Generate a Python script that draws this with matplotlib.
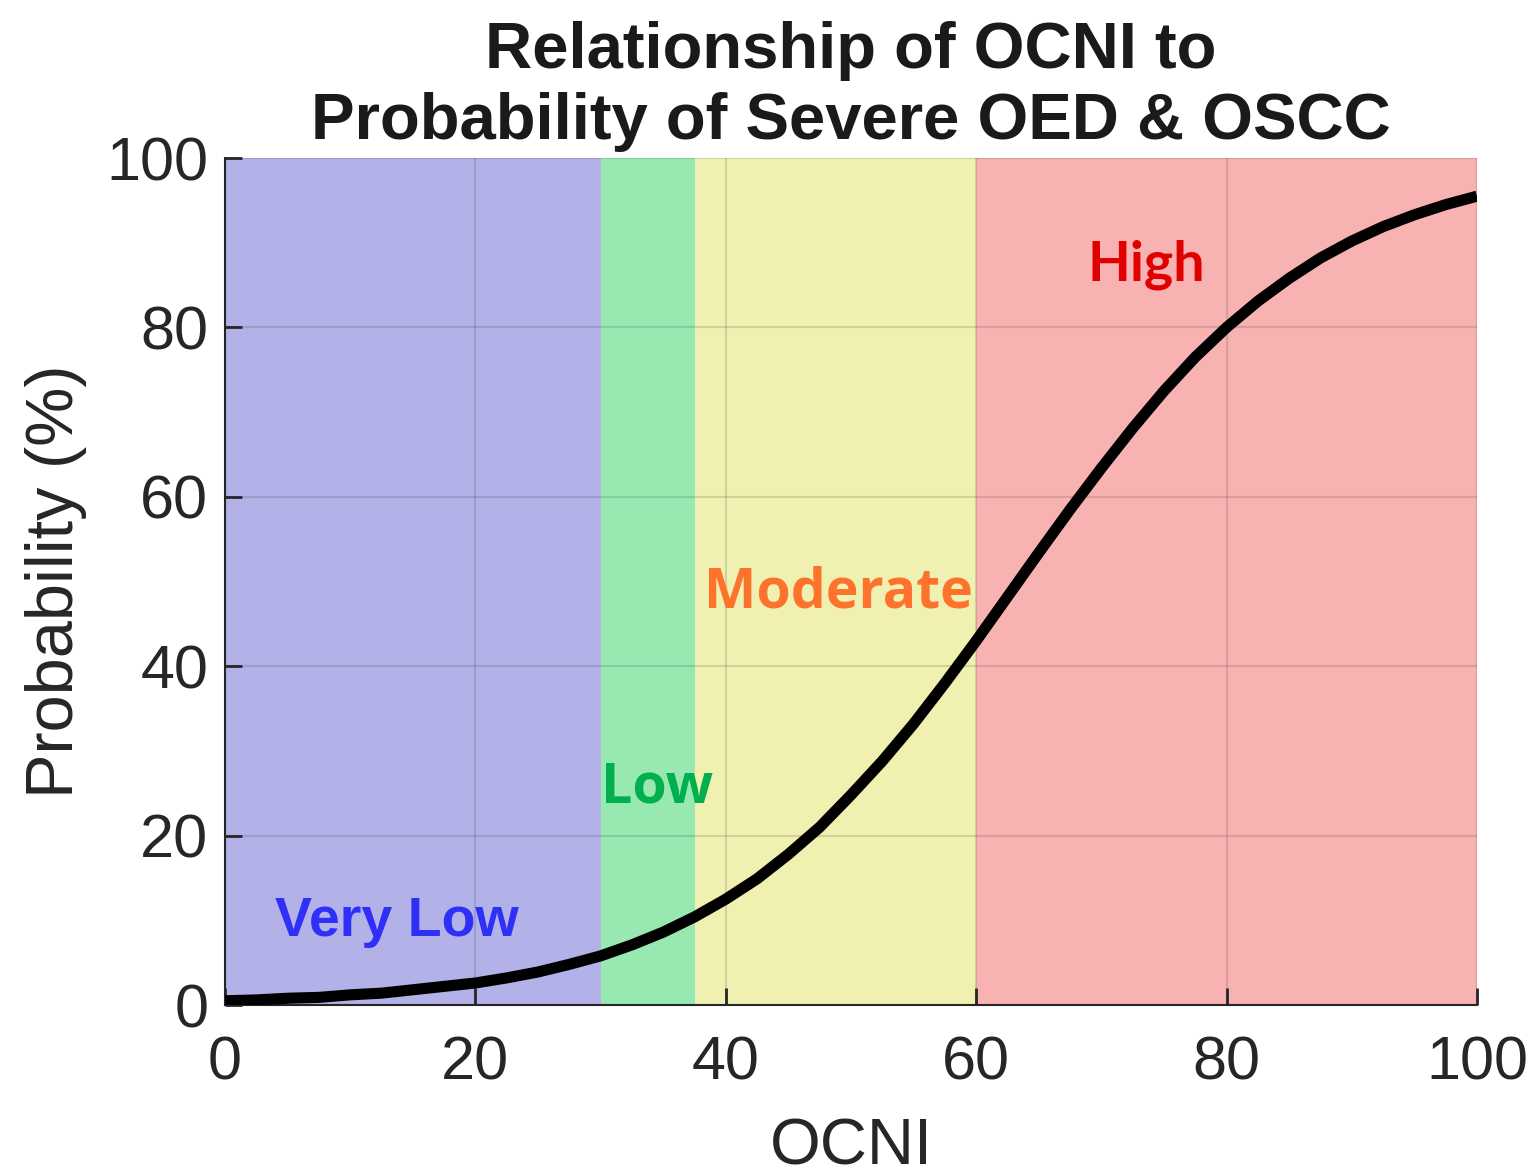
import numpy as np
import matplotlib.pyplot as plt

# values (OCNI vs probability %)
ocni = [0, 2.5, 5, 7.5, 10, 12.5, 15, 17.5, 20, 22.5, 25, 27.5, 30, 32.5,
        35, 37.5, 40, 42.5, 45, 47.5, 50, 52.5, 55, 57.5, 60, 62.5, 65,
        67.5, 70, 72.5, 75, 77.5, 80, 82.5, 85, 87.5, 90, 92.5, 95, 97.5, 100]
prob = [0.5, 0.6, 0.8, 0.9, 1.2, 1.4, 1.8, 2.2, 2.6, 3.2, 3.9, 4.8, 5.8, 7.1,
        8.6, 10.4, 12.5, 14.9, 17.8, 21.0, 24.8, 28.8, 33.2, 38.0, 43.0, 48.2, 53.4,
        58.5, 63.4, 68.1, 72.5, 76.5, 80.0, 83.1, 85.8, 88.2, 90.2, 91.9, 93.3, 94.5, 95.5]

# risk bands: (start, end)
band_edges = [(0, 30), (30, 37.5), (37.5, 60), (60, 100)]
band_colors = ['#b2b2e8', '#98e8b1', '#f0f0b0', '#f8b2b2']
band_names = ['Very Low', 'Low', 'Moderate', 'High']
name_colors = ['#2f2ff7', '#00b04f', '#fd722d', '#e00000']
name_pos = [(13.7, 9.8), (34.5, 25.6), (49.0, 48.6), (73.6, 87.4)]
name_fonts = ['Liberation Sans', 'Open Sans', 'Open Sans', 'Lato']

txt = '#262626'

fig = plt.figure(figsize=(15.35, 11.76), dpi=100)
ax = fig.add_axes([0.1466, 0.1454, 0.8156, 0.7202])

for (x0, x1), c in zip(band_edges, band_colors):
    ax.axvspan(x0, x1, color=c, lw=0, zorder=0)

ax.plot(ocni, prob, color='black', lw=8, zorder=4, solid_capstyle='butt')

for name, c, (x, y), fnt in zip(band_names, name_colors, name_pos, name_fonts):
    ax.text(x, y, name, color=c, fontsize=40, fontweight='bold', family=fnt,
            ha='center', va='center', zorder=5)

ax.set_xlim(0, 100)
ax.set_ylim(0, 100)
ax.set_xticks([0, 20, 40, 60, 80, 100])
ax.set_yticks([0, 20, 40, 60, 80, 100])
ax.set_axisbelow(False)
ax.grid(True, color=txt, alpha=0.15, lw=1.5)

ax.tick_params(direction='in', length=12, width=2, colors=txt,
               labelsize=44, pad=22)
ax.tick_params(axis='y', pad=12)
for lab in ax.get_xticklabels() + ax.get_yticklabels():
    lab.set_family('Liberation Sans')
ax.spines['top'].set_visible(False)
ax.spines['right'].set_visible(False)
for s in ['left', 'bottom']:
    ax.spines[s].set_color(txt)
    ax.spines[s].set_linewidth(1.5)

ax.set_xlabel('OCNI', fontsize=47, color=txt, family='Liberation Sans', labelpad=18)
ax.set_ylabel('Probability (%)', fontsize=48, color=txt, family='Liberation Sans', labelpad=14)
ax.set_title('Relationship of OCNI to\nProbability of Severe OED & OSCC',
             fontsize=47, fontweight='bold', color='#1a1a1a',
             family='Liberation Sans', pad=14, linespacing=1.22)

fig.savefig('out.png', dpi=100)
